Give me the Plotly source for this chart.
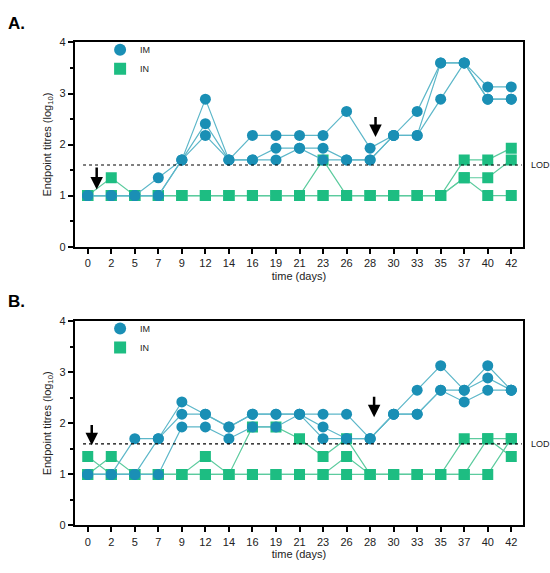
import plotly.graph_objects as go

days = ['0', '2', '5', '7', '9', '12', '14', '16', '19', '21', '23', '26', '28', '30', '33', '35', '37', '40', '42']

# panel A, log10 endpoint titres per animal
a_im = [
    [1, 1, 1, 1.35, 1.7, 2.89, 1.7, 2.18, 2.18, 2.18, 2.18, 2.65, 1.93, 2.18, 2.65, 3.6, 3.6, 3.13, 3.13],
    [1, 1, 1, 1, 1.7, 2.41, 1.7, 1.7, 1.93, 1.93, 1.93, 1.7, 1.7, 2.18, 2.18, 3.6, 3.6, 2.89, 2.89],
    [1, 1, 1, 1, 1.7, 2.18, 1.7, 1.7, 1.7, 1.93, 1.7, 1.7, 1.7, 2.18, 2.18, 2.89, 3.6, 2.89, 2.89],
]
a_in = [
    [1, 1.35, 1, 1, 1, 1, 1, 1, 1, 1, 1.7, 1, 1, 1, 1, 1, 1.7, 1.7, 1.93],
    [1, 1, 1, 1, 1, 1, 1, 1, 1, 1, 1, 1, 1, 1, 1, 1, 1.35, 1.35, 1.7],
    [1, 1, 1, 1, 1, 1, 1, 1, 1, 1, 1, 1, 1, 1, 1, 1, 1.35, 1, 1],
]

# panel B
b_im = [
    [1, 1, 1.7, 1.7, 2.42, 2.18, 1.93, 2.18, 2.18, 2.18, 2.18, 2.18, 1.7, 2.18, 2.65, 3.13, 2.65, 3.13, 2.65],
    [1, 1, 1, 1.7, 2.18, 2.18, 1.93, 2.18, 2.18, 2.18, 1.93, 1.7, 1.7, 2.18, 2.18, 2.65, 2.65, 2.89, 2.65],
    [1, 1, 1, 1, 1.93, 1.93, 1.7, 1.93, 1.93, 2.18, 1.7, 1.7, 1.7, 2.18, 2.18, 2.65, 2.42, 2.65, 2.65],
]
b_in = [
    [1.35, 1, 1, 1, 1, 1.35, 1, 1.93, 1.93, 1.7, 1.35, 1.7, 1, 1, 1, 1, 1.7, 1.7, 1.35],
    [1, 1.35, 1, 1, 1, 1, 1, 1, 1, 1, 1, 1.35, 1, 1, 1, 1, 1, 1.7, 1.7],
    [1, 1, 1, 1, 1, 1, 1, 1, 1, 1, 1, 1, 1, 1, 1, 1, 1, 1, 1.7],
]

LOD = 1.6
# dosing arrows: (day index, tail y, tip y)
arrows_a = [(0.38, 1.58, 1.12), (12.23, 2.57, 2.15)]
arrows_b = [(0.17, 2.0, 1.57), (12.17, 2.55, 2.12)]

im_col = '#1a8fb5'
im_line = '#5db7c9'
in_col = '#1dbd82'
in_line = '#5ccb9e'

fig = go.Figure()

def add_group(vals, xa, ya, marker_col, line_col, symbol):
    for v in vals:
        fig.add_trace(go.Scatter(
            x=days, y=v, xaxis=xa, yaxis=ya, mode='lines+markers',
            line=dict(color=line_col, width=1.2),
            marker=dict(symbol=symbol, size=11, color=marker_col),
            showlegend=False, hoverinfo='skip'))

add_group(a_in, 'x', 'y', in_col, in_line, 'square')
add_group(a_im, 'x', 'y', im_col, im_line, 'circle')
add_group(b_in, 'x2', 'y2', in_col, in_line, 'square')
add_group(b_im, 'x2', 'y2', im_col, im_line, 'circle')

# legend entries, markers only
for lg, xa, ya in [('legend', 'x', 'y'), ('legend2', 'x2', 'y2')]:
    fig.add_trace(go.Scatter(x=[None], y=[None], xaxis=xa, yaxis=ya, mode='markers', name='IM',
                             marker=dict(symbol='circle', size=11, color=im_col), legend=lg))
    fig.add_trace(go.Scatter(x=[None], y=[None], xaxis=xa, yaxis=ya, mode='markers', name='IN',
                             marker=dict(symbol='square', size=11, color=in_col), legend=lg))

xstyle = dict(type='category', range=[-0.55, 18.5], showline=True, linecolor='black', linewidth=2,
              mirror=True, ticks='outside', ticklen=5, tickwidth=1.5, tickcolor='black',
              tickfont=dict(size=11, color='#222'), showgrid=False, zeroline=False,
              title=dict(text='time (days)', font=dict(size=11, color='#222'), standoff=4))
ystyle = dict(range=[0, 4], dtick=1, showline=True, linecolor='black', linewidth=2,
              mirror=True, ticks='outside', ticklen=5, tickwidth=1.5, tickcolor='black',
              minor=dict(dtick=0.5, ticks='outside', ticklen=3, tickwidth=1.5, tickcolor='black'),
              tickfont=dict(size=11, color='#222'), showgrid=False, zeroline=False,
              title=dict(text='Endpoint titres (log<sub>10</sub>)', font=dict(size=11, color='#222'), standoff=6))

legstyle = dict(bgcolor='rgba(0,0,0,0)', font=dict(size=9, color='#222'), itemsizing='constant',
                tracegroupgap=0, xanchor='left', yanchor='top')

fig.update_layout(
    width=550, height=573,
    margin=dict(l=0, r=0, t=0, b=0),
    paper_bgcolor='white', plot_bgcolor='white',
    font=dict(family='Liberation Sans, Arial, sans-serif'),
    xaxis=dict(xstyle, domain=[0.136, 0.951], anchor='y'),
    yaxis=dict(ystyle, domain=[0.571, 0.935], anchor='x'),
    xaxis2=dict(xstyle, domain=[0.136, 0.951], anchor='y2'),
    yaxis2=dict(ystyle, domain=[0.074, 0.438], anchor='x2'),
    legend=dict(legstyle, x=0.182, y=0.948),
    legend2=dict(legstyle, x=0.182, y=0.451),
)

for xa, ya, arrows in [('x', 'y', arrows_a), ('x2', 'y2', arrows_b)]:
    fig.add_shape(type='line', xref=xa, yref=ya, x0=-0.2, x1=18.45, y0=LOD, y1=LOD,
                  line=dict(color='black', width=1.2, dash='dot'))
    fig.add_annotation(xref='paper', yref=ya, x=0.962, y=LOD, text='LOD', showarrow=False,
                       xanchor='left', font=dict(size=9, color='#222'))
    for xi, tail, tip in arrows:
        fig.add_annotation(xref=xa, yref=ya, axref=xa, ayref=ya, x=xi, y=tip, ax=xi, ay=tail,
                           text='', showarrow=True, arrowhead=2, arrowsize=1, arrowwidth=2.5,
                           arrowcolor='black')

fig.add_annotation(xref='paper', yref='paper', x=0.01, y=0.99, text='<b>A.</b>', showarrow=False,
                   xanchor='left', yanchor='top', font=dict(size=17, color='black'))
fig.add_annotation(xref='paper', yref='paper', x=0.01, y=0.493, text='<b>B.</b>', showarrow=False,
                   xanchor='left', yanchor='top', font=dict(size=17, color='black'))

# drop the default page margin so the figure sits at the window's corner
fig.write_html('out.html', config={'displayModeBar': False},
               post_script="document.body.style.margin='0';")
